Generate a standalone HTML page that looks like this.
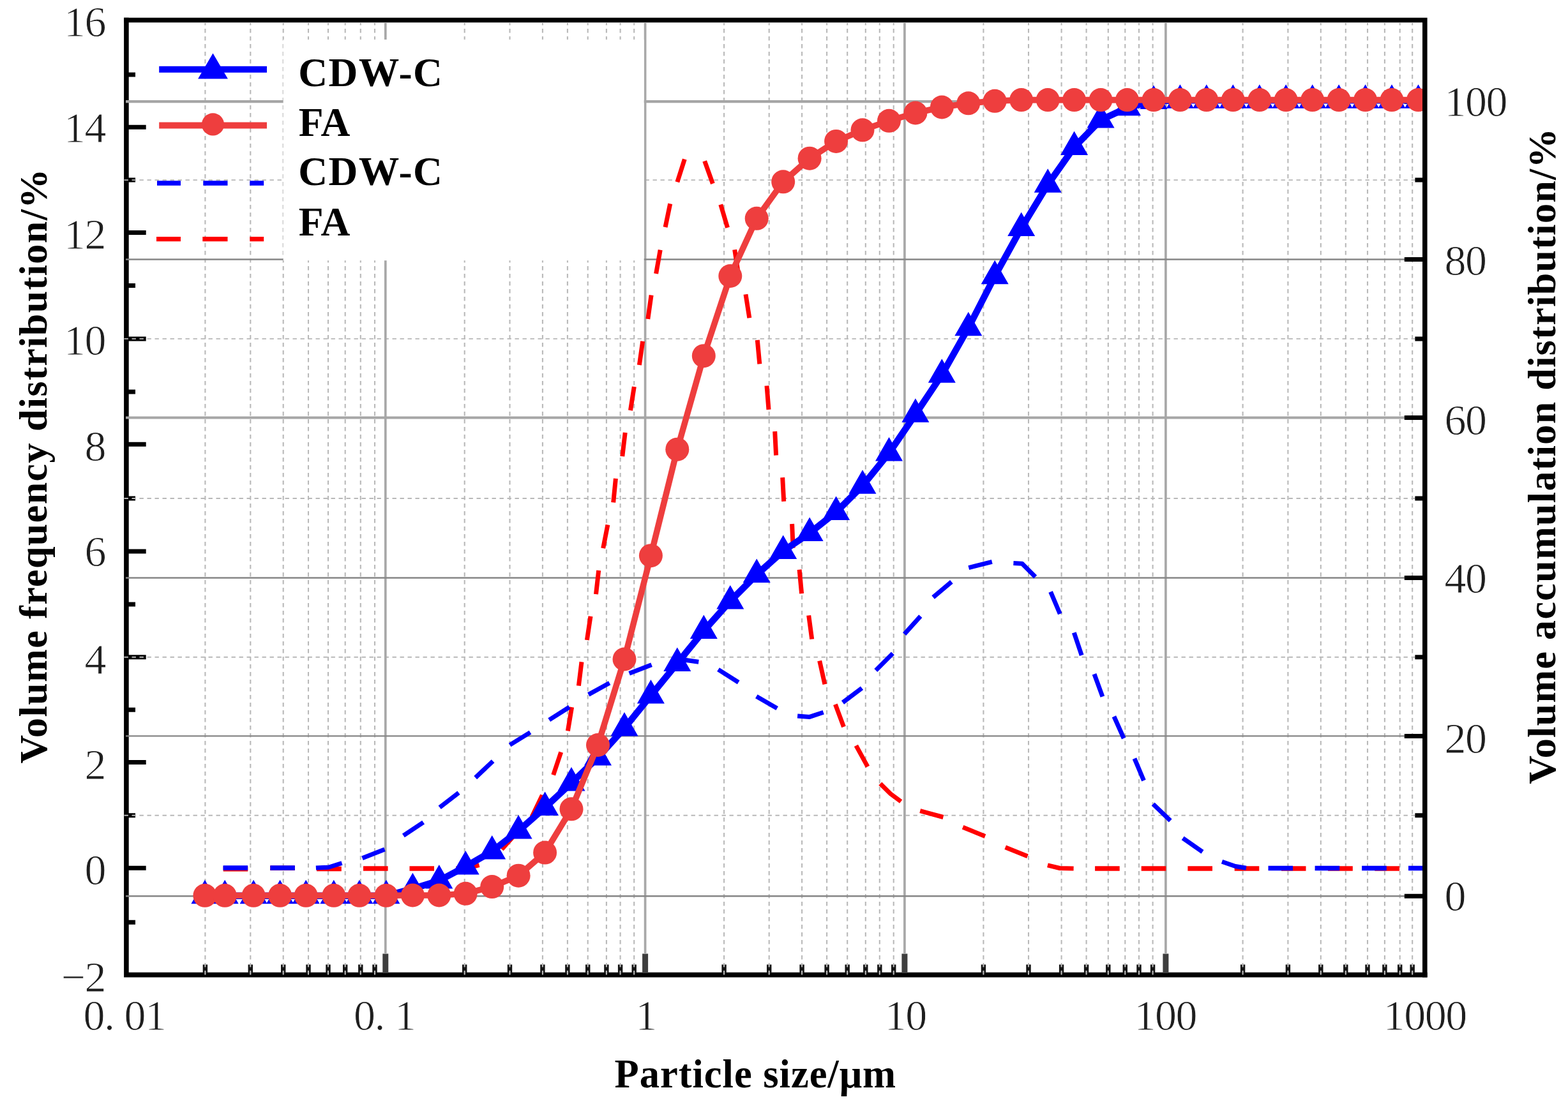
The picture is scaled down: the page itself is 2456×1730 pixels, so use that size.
<!DOCTYPE html>
<html lang="en"><head><meta charset="utf-8"><title>Particle size distribution</title>
<style>html,body{margin:0;padding:0;background:#fff;}body{width:2456px;height:1730px;overflow:hidden;}svg{display:block;}.tk{font-family:"Liberation Serif","DejaVu Serif",serif;font-size:68px;letter-spacing:-1.5px;fill:#1e1e1e;stroke:#fff;stroke-width:0.9px;paint-order:fill stroke;}.bt{font-family:"Liberation Serif","DejaVu Serif",serif;font-weight:bold;fill:#000;}</style></head><body>
<svg width="2456" height="1730" viewBox="0 0 2456 1730">
<rect x="0" y="0" width="2456" height="1730" fill="#ffffff"/>
<g id="axes1" fill="none" stroke="#000">
<path d="M197.9 31.5V1527.6H2231.8" stroke-width="7.6" stroke-linecap="square"/>
<path d="M201 199.2H228.7 M201 364.5H228.7 M201 530.9H228.7 M201 696.2H228.7 M201 864.0H228.7 M201 1029.8H228.7 M201 1194.5H228.7 M201 1360.2H228.7" stroke-width="7"/>
<path d="M201 116.9H212 M201 282.1H212 M201 447.5H212 M201 613.9H212 M201 781.0H212 M201 946.9H212 M201 1112.2H212 M201 1277.7H212 M201 1445.2H212" stroke-width="7"/>
<path d="M321.4 1525V1511.6 M392.3 1525V1511.6 M443.7 1525V1511.6 M483.0 1525V1511.6 M514.0 1525V1511.6 M540.7 1525V1511.6 M564.8 1525V1511.6 M587.0 1525V1511.6 M727.7 1525V1511.6 M798.5 1525V1511.6 M849.9 1525V1511.6 M888.9 1525V1511.6 M920.7 1525V1511.6 M949.9 1525V1511.6 M971.6 1525V1511.6 M993.2 1525V1511.6 M1134.1 1525V1511.6 M1204.7 1525V1511.6 M1256.1 1525V1511.6 M1295.1 1525V1511.6 M1327.2 1525V1511.6 M1355.8 1525V1511.6 M1377.8 1525V1511.6 M1399.7 1525V1511.6 M1540.4 1525V1511.6 M1611.0 1525V1511.6 M1662.6 1525V1511.6 M1701.6 1525V1511.6 M1735.8 1525V1511.6 M1762.3 1525V1511.6 M1784.0 1525V1511.6 M1805.6 1525V1511.6 M1946.6 1525V1511.6 M2017.4 1525V1511.6 M2068.8 1525V1511.6 M2107.8 1525V1511.6 M2142.0 1525V1511.6 M2168.9 1525V1511.6 M2192.7 1525V1511.6 M2212.2 1525V1511.6" stroke-width="7.4" stroke="#141414"/>
<path d="M603.8 1525V1494.6 M1010.6 1525V1494.6 M1416.9 1525V1494.6 M1825.9 1525V1494.6" stroke-width="9" stroke="#3e3e3e"/>
</g>
<g id="grid" fill="none">
<path d="M321.4 36V1529 M392.3 36V1529 M443.7 36V1529 M483.0 36V1529 M514.0 36V1529 M540.7 36V1529 M564.8 36V1529 M587.0 36V1529 M727.7 36V1529 M798.5 36V1529 M849.9 36V1529 M888.9 36V1529 M920.7 36V1529 M949.9 36V1529 M971.6 36V1529 M993.2 36V1529 M1134.1 36V1529 M1204.7 36V1529 M1256.1 36V1529 M1295.1 36V1529 M1327.2 36V1529 M1355.8 36V1529 M1377.8 36V1529 M1399.7 36V1529 M1540.4 36V1529 M1611.0 36V1529 M1662.6 36V1529 M1701.6 36V1529 M1735.8 36V1529 M1762.3 36V1529 M1784.0 36V1529 M1805.6 36V1529 M1946.6 36V1529 M2017.4 36V1529 M2068.8 36V1529 M2107.8 36V1529 M2142.0 36V1529 M2168.9 36V1529 M2192.7 36V1529 M2212.2 36V1529" stroke="#b9b9b9" stroke-width="2.1" stroke-dasharray="6.6 5.4" stroke-dashoffset="3"/>
<path d="M194.5 282.1H2228 M194.5 530.9H2228 M194.5 781.0H2228 M194.5 1029.8H2228 M194.5 1277.7H2228" stroke="#b8b8b8" stroke-width="1.9" stroke-dasharray="6.4 5.6"/>
<path d="M603.8 36V1495 M1010.6 36V1495 M1416.9 36V1495 M1825.9 36V1495" stroke="#a8a8a8" stroke-width="3.7"/>
<path d="M197 406.5H2228 M197 905.5H2228 M197 1153.4H2228 M197 1404.3H2228" stroke="#868686" stroke-width="2.4"/>
<path d="M197 159.2H2228 M197 654.5H2228" stroke="#a6a6a6" stroke-width="4.2"/>
</g>
<rect x="443.7" y="62" width="565" height="346.2" fill="#ffffff"/>
<path d="M2229 159.2H2199.8 M2229 406.5H2199.8 M2229 654.5H2199.8 M2229 905.5H2199.8 M2229 1153.4H2199.8 M2229 1404.3H2199.8" stroke-width="7" stroke="#000" fill="none"/>
<path d="M2229 282.1H2216.4 M2229 530.9H2216.4 M2229 781.0H2216.4 M2229 1029.8H2216.4 M2229 1277.7H2216.4" stroke-width="7" stroke="#000" fill="none"/>
<g id="fa-freq" fill="none" stroke="#ff0000" stroke-linejoin="round">
<path d="M349.7 1361.6 L388.3 1361.6 M423.2 1360.2 L461.8 1360.2 M496.0 1361.5 L534.8 1361.5 M569.0 1361.0 L607.6 1361.0 M641.5 1361.0 L680.0 1361.0 M1715.1 1361.0 L1753.7 1361.0 M1787.7 1361.0 L1826.3 1361.0 M1860.4 1361.0 L1899.0 1361.0 M1933.7 1361.0 L1972.3 1361.0 M2007.0 1361.0 L2045.5 1361.0 M2080.0 1361.0 L2118.8 1361.0 M2153.3 1361.0 L2192.0 1361.0" stroke-width="7.6"/>
<path d="M714.4 1361.1 L735.0 1359.5 L750.6 1355.6 M786.0 1331.0 L811.0 1303.0 M833.1 1279.9 L849.4 1246.1 M866.7 1214.3 L878.7 1178.7 M889.4 1145.3 L895.6 1108.2 M906.4 1074.6 L911.0 1037.2 M919.4 1002.9 L925.0 965.8 M933.5 931.2 L937.7 893.9 M944.7 859.2 L951.9 822.3 M960.7 787.3 L964.4 749.8 M974.8 715.1 L979.2 677.8 M987.5 643.1 L993.3 606.0 M1001.4 572.1 L1006.7 534.8 M1014.8 499.9 L1020.1 462.6 M1027.6 428.8 L1034.2 391.7 M1042.1 356.0 L1049.7 319.2 M1060.9 285.3 L1072.3 249.5 M1103.7 252.4 L1116.4 287.8 M1128.8 320.6 L1139.5 356.7 M1150.7 391.3 L1156.4 428.4 M1168.0 461.2 L1173.8 498.3 M1186.3 532.9 L1189.8 570.4 M1201.0 604.5 L1204.0 641.9 M1213.7 676.0 L1215.6 713.5 M1225.7 748.2 L1227.7 785.7 M1240.6 821.0 L1242.2 858.6 M1252.1 892.7 L1255.6 930.2 M1266.7 964.4 L1271.7 1001.6 M1283.7 1035.6 L1291.9 1072.2 M1308.4 1103.8 L1321.5 1139.0 M1340.9 1168.4 L1359.0 1201.4 M1378.8 1227.9 L1395.0 1244.0 L1411.2 1256.0 M1441.2 1270.7 L1477.4 1280.5 M1508.1 1296.3 L1543.0 1310.4 M1574.7 1327.8 L1609.5 1341.8 M1640.9 1355.8 L1660.0 1360.5 L1681.6 1361.0" stroke-width="7.0"/>
</g>
<g id="cdw-freq" fill="none" stroke="#0000ff" stroke-linejoin="round">
<path d="M349.5 1360.0 L388.1 1360.0 M423.3 1360.0 L461.9 1360.0 M1986.5 1360.5 L2025.0 1360.5 M2059.6 1360.5 L2098.2 1360.5 M2133.1 1360.5 L2171.8 1360.5 M2206.0 1360.5 L2229.0 1360.5" stroke-width="7.6"/>
<path d="M494.9 1360.1 L515.0 1359.0 L535.5 1352.5 M567.5 1344.8 L602.5 1331.0 M631.9 1309.4 L663.1 1288.6 M688.7 1265.2 L718.5 1242.3 M744.7 1218.6 L772.1 1192.7 M798.6 1167.4 L830.5 1147.6 M860.2 1128.1 L891.9 1108.0 M921.8 1088.4 L954.7 1070.2 M985.6 1055.3 L1020.6 1041.7 M1053.4 1036.1 L1075.0 1034.5 L1094.3 1037.2 M1125.0 1049.1 L1156.7 1069.3 M1184.8 1091.2 L1217.2 1110.1 M1249.1 1121.9 L1268.1 1123.4 L1289.7 1116.2 M1320.0 1100.9 L1350.0 1078.3 M1371.8 1050.5 L1398.4 1023.9 M1416.6 993.6 L1441.8 965.7 M1461.6 936.0 L1490.4 911.8 M1517.3 889.6 L1553.8 880.4 M1587.4 882.6 L1601.0 883.3 L1621.7 903.9 M1645.6 927.3 L1660.3 962.0 M1682.3 991.3 L1694.2 1026.9 M1714.0 1056.3 L1726.9 1091.6 M1744.9 1122.7 L1760.2 1157.0 M1777.0 1188.6 L1791.5 1223.2 M1806.1 1259.9 L1833.2 1286.0 M1852.7 1313.4 L1883.5 1334.8 M1914.0 1350.3 L1935.0 1357.5 L1951.9 1360.3" stroke-width="7.0"/>
</g>
<clipPath id="plotclip"><rect x="198" y="32" width="2033.8" height="1495.6"/></clipPath>
<g id="cdw-cum" clip-path="url(#plotclip)">
<polyline points="320.9,1403.8 352.2,1403.8 397.1,1403.8 438.6,1403.8 479.2,1403.8 522.8,1403.8 562.9,1403.8 604.9,1403.8 646.4,1392.7 687.8,1380.0 729.2,1358.0 770.7,1334.0 812.1,1302.0 853.6,1265.5 895.0,1227.0 936.5,1187.1 978.0,1141.0 1019.4,1090.0 1060.8,1039.5 1102.3,988.5 1143.8,942.0 1185.2,900.5 1226.7,863.5 1268.1,835.5 1309.6,802.5 1351.0,761.3 1392.5,710.0 1433.9,649.3 1475.3,587.3 1516.8,513.7 1558.2,432.8 1599.7,357.6 1641.2,289.3 1682.6,230.6 1724.1,188.1 1765.5,168.8 1807.0,158.4 1848.4,157.2 1889.8,157.2 1931.3,157.2 1972.8,157.2 2014.2,157.2 2055.7,157.2 2097.1,157.2 2138.6,157.2 2180.0,157.2 2221.5,157.2" fill="none" stroke="#0000ff" stroke-width="10.4" stroke-linejoin="round"/>
<path d="M320.9 1378.8l21.5 37.5h-43z M352.2 1378.8l21.5 37.5h-43z M397.1 1378.8l21.5 37.5h-43z M438.6 1378.8l21.5 37.5h-43z M479.2 1378.8l21.5 37.5h-43z M522.8 1378.8l21.5 37.5h-43z M562.9 1378.8l21.5 37.5h-43z M604.9 1378.8l21.5 37.5h-43z M646.4 1367.7l21.5 37.5h-43z M687.8 1355.0l21.5 37.5h-43z M729.2 1333.0l21.5 37.5h-43z M770.7 1309.0l21.5 37.5h-43z M812.1 1277.0l21.5 37.5h-43z M853.6 1240.5l21.5 37.5h-43z M895.0 1202.0l21.5 37.5h-43z M936.5 1162.1l21.5 37.5h-43z M978.0 1116.0l21.5 37.5h-43z M1019.4 1065.0l21.5 37.5h-43z M1060.8 1014.5l21.5 37.5h-43z M1102.3 963.5l21.5 37.5h-43z M1143.8 917.0l21.5 37.5h-43z M1185.2 875.5l21.5 37.5h-43z M1226.7 838.5l21.5 37.5h-43z M1268.1 810.5l21.5 37.5h-43z M1309.6 777.5l21.5 37.5h-43z M1351.0 736.3l21.5 37.5h-43z M1392.5 685.0l21.5 37.5h-43z M1433.9 624.3l21.5 37.5h-43z M1475.3 562.3l21.5 37.5h-43z M1516.8 488.7l21.5 37.5h-43z M1558.2 407.8l21.5 37.5h-43z M1599.7 332.6l21.5 37.5h-43z M1641.2 264.3l21.5 37.5h-43z M1682.6 205.6l21.5 37.5h-43z M1724.1 163.1l21.5 37.5h-43z M1765.5 143.8l21.5 37.5h-43z M1807.0 133.4l21.5 37.5h-43z M1848.4 132.2l21.5 37.5h-43z M1889.8 132.2l21.5 37.5h-43z M1931.3 132.2l21.5 37.5h-43z M1972.8 132.2l21.5 37.5h-43z M2014.2 132.2l21.5 37.5h-43z M2055.7 132.2l21.5 37.5h-43z M2097.1 132.2l21.5 37.5h-43z M2138.6 132.2l21.5 37.5h-43z M2180.0 132.2l21.5 37.5h-43z M2221.5 132.2l21.5 37.5h-43z" fill="#0000ff"/>
</g>
<g id="fa-cum" clip-path="url(#plotclip)">
<polyline points="320.9,1403.3 352.2,1403.3 397.1,1403.3 438.6,1403.3 479.2,1403.3 522.8,1403.3 562.9,1403.3 604.9,1403.3 646.4,1403.0 687.8,1403.0 729.2,1400.3 770.7,1389.6 812.1,1372.2 853.6,1336.1 895.0,1267.8 936.5,1167.5 978.0,1033.0 1019.4,870.7 1060.8,704.2 1102.3,557.7 1143.8,432.5 1185.2,342.3 1226.7,284.8 1268.1,248.2 1309.6,221.4 1351.0,203.8 1392.5,189.3 1433.9,177.0 1475.3,168.0 1516.8,161.8 1558.2,158.3 1599.7,156.6 1641.2,156.6 1682.6,156.6 1724.1,156.6 1765.5,156.6 1807.0,156.6 1848.4,156.6 1889.8,156.6 1931.3,156.6 1972.8,156.6 2014.2,156.6 2055.7,156.6 2097.1,156.6 2138.6,156.6 2180.0,156.6 2221.5,156.6" fill="none" stroke="#ee3e3e" stroke-width="9.6" stroke-linejoin="round"/>
<circle cx="320.9" cy="1403.3" r="18.5" fill="#ee3e3e"/>
<circle cx="352.2" cy="1403.3" r="18.5" fill="#ee3e3e"/>
<circle cx="397.1" cy="1403.3" r="18.5" fill="#ee3e3e"/>
<circle cx="438.6" cy="1403.3" r="18.5" fill="#ee3e3e"/>
<circle cx="479.2" cy="1403.3" r="18.5" fill="#ee3e3e"/>
<circle cx="522.8" cy="1403.3" r="18.5" fill="#ee3e3e"/>
<circle cx="562.9" cy="1403.3" r="18.5" fill="#ee3e3e"/>
<circle cx="604.9" cy="1403.3" r="18.5" fill="#ee3e3e"/>
<circle cx="646.4" cy="1403.0" r="18.5" fill="#ee3e3e"/>
<circle cx="687.8" cy="1403.0" r="18.5" fill="#ee3e3e"/>
<circle cx="729.2" cy="1400.3" r="18.5" fill="#ee3e3e"/>
<circle cx="770.7" cy="1389.6" r="18.5" fill="#ee3e3e"/>
<circle cx="812.1" cy="1372.2" r="18.5" fill="#ee3e3e"/>
<circle cx="853.6" cy="1336.1" r="18.5" fill="#ee3e3e"/>
<circle cx="895.0" cy="1267.8" r="18.5" fill="#ee3e3e"/>
<circle cx="936.5" cy="1167.5" r="18.5" fill="#ee3e3e"/>
<circle cx="978.0" cy="1033.0" r="18.5" fill="#ee3e3e"/>
<circle cx="1019.4" cy="870.7" r="18.5" fill="#ee3e3e"/>
<circle cx="1060.8" cy="704.2" r="18.5" fill="#ee3e3e"/>
<circle cx="1102.3" cy="557.7" r="18.5" fill="#ee3e3e"/>
<circle cx="1143.8" cy="432.5" r="18.5" fill="#ee3e3e"/>
<circle cx="1185.2" cy="342.3" r="18.5" fill="#ee3e3e"/>
<circle cx="1226.7" cy="284.8" r="18.5" fill="#ee3e3e"/>
<circle cx="1268.1" cy="248.2" r="18.5" fill="#ee3e3e"/>
<circle cx="1309.6" cy="221.4" r="18.5" fill="#ee3e3e"/>
<circle cx="1351.0" cy="203.8" r="18.5" fill="#ee3e3e"/>
<circle cx="1392.5" cy="189.3" r="18.5" fill="#ee3e3e"/>
<circle cx="1433.9" cy="177.0" r="18.5" fill="#ee3e3e"/>
<circle cx="1475.3" cy="168.0" r="18.5" fill="#ee3e3e"/>
<circle cx="1516.8" cy="161.8" r="18.5" fill="#ee3e3e"/>
<circle cx="1558.2" cy="158.3" r="18.5" fill="#ee3e3e"/>
<circle cx="1599.7" cy="156.6" r="18.5" fill="#ee3e3e"/>
<circle cx="1641.2" cy="156.6" r="18.5" fill="#ee3e3e"/>
<circle cx="1682.6" cy="156.6" r="18.5" fill="#ee3e3e"/>
<circle cx="1724.1" cy="156.6" r="18.5" fill="#ee3e3e"/>
<circle cx="1765.5" cy="156.6" r="18.5" fill="#ee3e3e"/>
<circle cx="1807.0" cy="156.6" r="18.5" fill="#ee3e3e"/>
<circle cx="1848.4" cy="156.6" r="18.5" fill="#ee3e3e"/>
<circle cx="1889.8" cy="156.6" r="18.5" fill="#ee3e3e"/>
<circle cx="1931.3" cy="156.6" r="18.5" fill="#ee3e3e"/>
<circle cx="1972.8" cy="156.6" r="18.5" fill="#ee3e3e"/>
<circle cx="2014.2" cy="156.6" r="18.5" fill="#ee3e3e"/>
<circle cx="2055.7" cy="156.6" r="18.5" fill="#ee3e3e"/>
<circle cx="2097.1" cy="156.6" r="18.5" fill="#ee3e3e"/>
<circle cx="2138.6" cy="156.6" r="18.5" fill="#ee3e3e"/>
<circle cx="2180.0" cy="156.6" r="18.5" fill="#ee3e3e"/>
<circle cx="2221.5" cy="156.6" r="18.5" fill="#ee3e3e"/>
</g>
<path d="M197.9 31.5H2231.8V1527.6" fill="none" stroke="#000" stroke-width="7.6" stroke-linecap="square"/>
<g id="legend">
<path d="M249.2 108.8H418" stroke="#0000ff" stroke-width="10" fill="none"/>
<path d="M333.5 83.4l23.4 40.1h-46.8z" fill="#0000ff"/>
<path d="M249.2 196.6H418" stroke="#ee3e3e" stroke-width="10" fill="none"/>
<circle cx="333.5" cy="194.9" r="17.6" fill="#ee3e3e"/>
<path d="M246 287H283M318.3 287H356.5M391.3 287H413.2" stroke="#0000ff" stroke-width="7.4" fill="none"/>
<path d="M245 374.6H283M317.3 374.6H356.5M391.3 374.6H413.2" stroke="#ff0000" stroke-width="7.4" fill="none"/>
<text class="bt" x="467.3" y="135.2" font-size="63.5" textLength="225.5">CDW-C</text>
<text class="bt" x="467.8" y="213.4" font-size="63.5" textLength="80.5">FA</text>
<text class="bt" x="467.3" y="290.4" font-size="63.5" textLength="225.5">CDW-C</text>
<text class="bt" x="467.8" y="368.7" font-size="63.5" textLength="80.5">FA</text>
</g>
<g id="labels" class="tk">
<text x="165" y="57.3" text-anchor="end">16</text>
<text x="165" y="223.0" text-anchor="end">14</text>
<text x="165" y="390.3" text-anchor="end">12</text>
<text x="165" y="556.2" text-anchor="end">10</text>
<text x="165" y="722.0" text-anchor="end">8</text>
<text x="165" y="886.8" text-anchor="end">6</text>
<text x="165" y="1055.8" text-anchor="end">4</text>
<text x="165" y="1220.8" text-anchor="end">2</text>
<text x="165" y="1386.2" text-anchor="end">0</text>
<text x="165" y="1554.4" text-anchor="end">−2</text>
<text x="2262.5" y="182.2">100</text>
<text x="2262.5" y="431.0">80</text>
<text x="2262.5" y="680.5">60</text>
<text x="2262.5" y="928.8">40</text>
<text x="2262.5" y="1180.0">20</text>
<text x="2262.5" y="1427.4">0</text>
<text x="130.6" y="1614.2"><tspan>0.</tspan><tspan dx="16">01</tspan></text>
<text x="553.9" y="1614.2"><tspan>0.</tspan><tspan dx="16">1</tspan></text>
<text x="1011.6" y="1614.2" text-anchor="middle">1</text>
<text x="1418.2" y="1614.2" text-anchor="middle">10</text>
<text x="1825.2" y="1614.2" text-anchor="middle">100</text>
<text x="2231.8" y="1614.2" text-anchor="middle">1000</text>
</g>
<text class="bt" font-size="62.5" x="962.6" y="1703.8" textLength="440.6">Particle size/μm</text>
<text class="bt" font-size="62" transform="translate(73 1196.4) rotate(-90)" textLength="931.7">Volume frequency distribution/%</text>
<text class="bt" font-size="62" transform="translate(2435.6 1228.8) rotate(-90)" textLength="1027.5">Volume accumulation distribution/%</text>
</svg>
</body></html>
